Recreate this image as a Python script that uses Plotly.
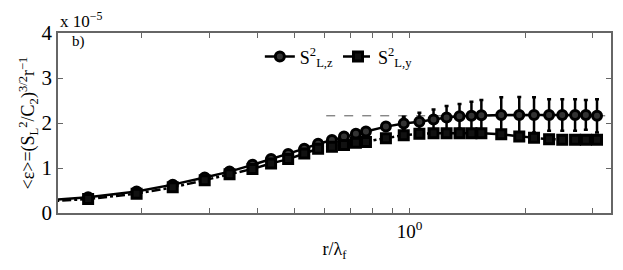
import plotly.graph_objects as go
import numpy as np

r = [0.10, 0.145, 0.194, 0.241, 0.292, 0.339, 0.389, 0.435, 0.482, 0.531, 0.577, 0.627, 0.674,
     0.724, 0.769, 0.867, 0.965, 1.06, 1.154, 1.248, 1.349, 1.449, 1.538, 1.733, 1.931,
     2.11, 2.31, 2.50, 2.70, 2.88, 3.08]
eps_z = [0.25, 0.35, 0.48, 0.63, 0.79, 0.92, 1.07, 1.20, 1.31, 1.43, 1.54, 1.62, 1.70,
         1.76, 1.81, 1.92, 1.99, 2.03, 2.08, 2.12, 2.15, 2.16, 2.17, 2.18, 2.18,
         2.18, 2.18, 2.18, 2.18, 2.18, 2.16]
err_z = [0.02, 0.02, 0.02, 0.02, 0.02, 0.02, 0.03, 0.03, 0.03, 0.03, 0.03, 0.04, 0.05,
         0.05, 0.06, 0.09, 0.15, 0.20, 0.22, 0.26, 0.27, 0.31, 0.34, 0.39, 0.40,
         0.39, 0.35, 0.35, 0.35, 0.33, 0.37]
eps_y = [0.23, 0.31, 0.43, 0.57, 0.73, 0.86, 0.98, 1.10, 1.20, 1.32, 1.43, 1.47, 1.51,
         1.56, 1.58, 1.66, 1.73, 1.76, 1.77, 1.77, 1.77, 1.77, 1.77, 1.75, 1.70,
         1.67, 1.64, 1.63, 1.63, 1.63, 1.63]
err_y = [0.02, 0.02, 0.02, 0.02, 0.02, 0.02, 0.02, 0.03, 0.03, 0.03, 0.03, 0.03, 0.04,
         0.04, 0.04, 0.05, 0.06, 0.06, 0.06, 0.06, 0.06, 0.06, 0.06, 0.06, 0.06,
         0.06, 0.06, 0.06, 0.06, 0.06, 0.06]
ref_level = 2.16

x_tickvals = [0.2, 0.3, 0.4, 0.5, 0.6, 0.7, 0.8, 0.9, 1, 2, 3]
x_ticktext = ["", "", "", "", "", "", "", "", "10<sup>0</sup>", "", ""]
y_tickvals = [0, 1, 2, 3, 4]

font = "Liberation Serif, Times New Roman, Times, serif"

fig = go.Figure()
fig.add_trace(go.Scatter(
    x=r, y=eps_z, mode="lines+markers", name="S<sup>2</sup><sub>L,z</sub>",
    line=dict(color="black", width=2.5),
    marker=dict(symbol="circle", size=9, color="#333333", line=dict(color="black", width=3)),
    error_y=dict(type="data", array=err_z, color="black", thickness=2.5, width=2),
))
fig.add_trace(go.Scatter(
    x=r, y=eps_y, mode="lines+markers", name="S<sup>2</sup><sub>L,y</sub>",
    line=dict(color="black", width=2.5, dash="dashdot"),
    marker=dict(symbol="square", size=9, color="#111111", line=dict(color="black", width=3)),
    error_y=dict(type="data", array=err_y, color="black", thickness=2, width=2),
))

fig.add_shape(type="line", xref="paper", yref="y", x0=0.485, x1=1.0, y0=ref_level, y1=ref_level,
              line=dict(color="#555555", width=1, dash="dash"), layer="below")

fig.add_annotation(text="x 10<sup>−5</sup>", xref="paper", yref="paper", x=0.0, y=1.0,
                   xanchor="left", yanchor="bottom", showarrow=False,
                   font=dict(family=font, size=17, color="black"))
fig.add_annotation(text="b)", xref="paper", yref="paper", x=0.022, y=1.01,
                   xanchor="left", yanchor="top", showarrow=False,
                   font=dict(family=font, size=15, color="black"))

fig.update_layout(
    width=623, height=270,
    margin=dict(l=58, r=10, t=33, b=57),
    paper_bgcolor="white", plot_bgcolor="white",
    font=dict(family=font, size=17, color="black"),
    showlegend=True,
    legend=dict(orientation="h", x=0.365, y=0.97, xanchor="left", yanchor="top",
                bgcolor="rgba(0,0,0,0)", font=dict(family=font, size=18),
                itemwidth=30, tracegroupgap=0),
    xaxis=dict(type="log", range=[np.log10(0.121), np.log10(3.35)],
               tickvals=x_tickvals, ticktext=x_ticktext, ticks="inside", ticklen=5,
               tickcolor="#666666", showline=True, linecolor="#666666", linewidth=1.5,
               mirror="ticks", showgrid=False, zeroline=False,
               title=dict(text="r/λ<sub>f</sub>", font=dict(family=font, size=18), standoff=2),
               tickfont=dict(family=font, size=19)),
    yaxis=dict(range=[0, 4], tickvals=y_tickvals, ticks="inside", ticklen=5,
               tickcolor="#666666", showline=True, linecolor="#666666", linewidth=1.5,
               mirror="ticks", showgrid=False, zeroline=False,
               title=dict(text="&lt;ε&gt;=(S<sub>L</sub><sup>2</sup>/C<sub>2</sub>)<sup>3/2</sup>r<sup>−1</sup>",
                          font=dict(family=font, size=18), standoff=2),
               tickfont=dict(family=font, size=21)),
)

fig.write_html("out.html", config={"displayModeBar": False},
               post_script="document.body.style.margin='0';")
